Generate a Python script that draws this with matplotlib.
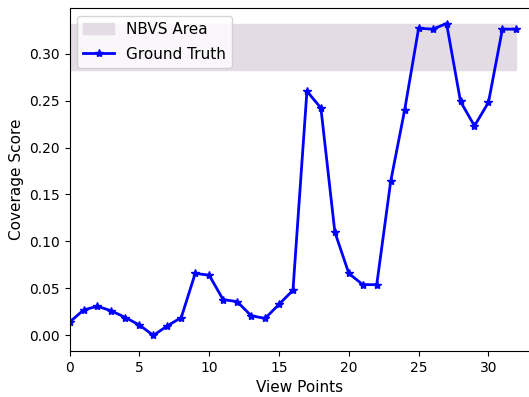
import numpy as np
import matplotlib
matplotlib.use("Agg")
import matplotlib.pyplot as plt

# ── Data ─────────────────────────────────────────────────────────────────────
view_points = list(range(33))
ground_truth = [0.014, 0.027, 0.031, 0.026, 0.019, 0.011, 0.000, 0.010, 0.019,
                0.066, 0.064, 0.038, 0.036, 0.021, 0.018, 0.033, 0.048,
                0.260, 0.242, 0.110, 0.066, 0.054, 0.054, 0.164, 0.240,
                0.327, 0.326, 0.332, 0.249, 0.223, 0.248, 0.326, 0.326]
nbvs_low = 0.282
nbvs_high = 0.332

fig = plt.figure(figsize=(5.29, 3.97), dpi=100)
ax = fig.add_axes([0.1315, 0.116, 0.871, 0.864])

ax.fill_between(view_points, nbvs_low, nbvs_high, color="#e3dce4",
                label="NBVS Area")
ax.plot(view_points, ground_truth, color="blue", linewidth=2,
        marker="*", markersize=6, label="Ground Truth")

ax.set_xlim(0, 33)
ax.set_ylim(-0.0166, 0.3486)
ax.set_xlabel("View Points", fontsize=11)
ax.set_ylabel("Coverage Score", fontsize=11)
ax.legend(fontsize=11, loc="upper left", labelspacing=0.65)

fig.savefig("out.png", dpi=100)
